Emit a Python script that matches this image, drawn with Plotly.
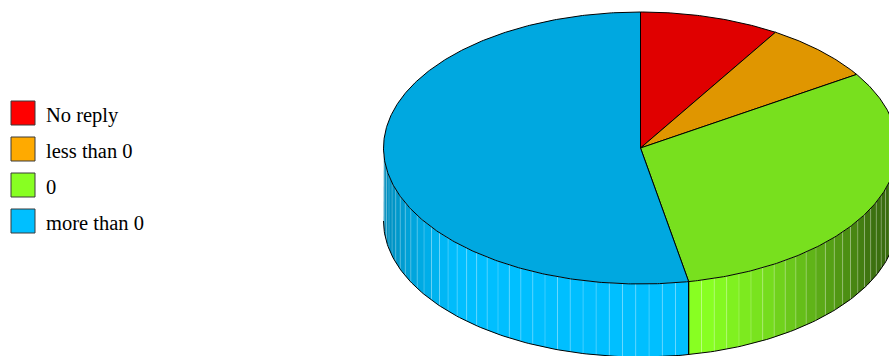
import numpy as np
import plotly.graph_objects as go

labels = ["No reply", "less than 0", "0", "more than 0"]
values = [8.8, 7.1, 31.1, 53.0]
colors = ["#ff0000", "#ffaa00", "#88ff22", "#00bfff"]

W, H = 889, 356
cx, cy = 640.5, 148.0
a, b = 257.0, 136.0
depth = 73.0
top_shade = 0.88


def shade(hexc, f):
    r, g, bb = int(hexc[1:3], 16), int(hexc[3:5], 16), int(hexc[5:7], 16)
    return "rgb(%d,%d,%d)" % (min(255, round(r * f)), min(255, round(g * f)), min(255, round(bb * f)))


def side_f(u):
    return float(np.interp(u, [180, 200, 225, 285, 300, 318, 333, 360],
                           [0.70, 0.80, 1.0, 1.0, 0.86, 0.62, 0.45, 0.38]))


def ell(ts):
    r = np.radians(ts)
    return cx + a * np.cos(r), cy - b * np.sin(r)


fig = go.Figure()
total = float(sum(values))
start = 90.0
bounds = []
for v in values:
    end = start - 360.0 * v / total
    bounds.append((start, end))
    start = end

# side walls (front half only)
edge_x, edge_y = [], []
for (s, e), c in zip(bounds, colors):
    lo, hi = max(e, -180.0), min(s, 0.0)
    if lo >= hi:
        continue
    n = max(1, int(np.ceil((hi - lo) / 3.0)))
    edges = np.linspace(lo, hi, n + 1)
    for t0, t1 in zip(edges[:-1], edges[1:]):
        ts = np.linspace(t0, t1, 6)
        xs, ys = ell(ts)
        X = list(xs) + list(xs[::-1])
        Y = list(ys) + list((ys + depth)[::-1])
        mid = (t0 + t1) / 2.0 + 360.0
        fig.add_trace(go.Scatter(x=X, y=Y, fill="toself", mode="lines",
                                 fillcolor=shade(c, side_f(mid)),
                                 line=dict(width=0), hoverinfo="skip", showlegend=False))
    for t in edges[1:-1]:
        x0, y0 = ell(np.array([t]))
        edge_x += [x0[0], x0[0], None]
        edge_y += [y0[0], y0[0] + depth, None]

fig.add_trace(go.Scatter(x=edge_x, y=edge_y, mode="lines",
                         line=dict(color="rgba(255,255,255,0.22)", width=1),
                         hoverinfo="skip", showlegend=False))

# bottom arc
ts = np.linspace(-180, 0, 200)
bx, by = ell(ts)
fig.add_trace(go.Scatter(x=bx, y=by + depth, mode="lines", line=dict(color="black", width=1),
                         hoverinfo="skip", showlegend=False))

# vertical slice boundaries on the side
vx, vy = [], []
for s, e in bounds:
    for t in (s, e):
        if -180.0 < t < 0.0:
            x0, y0 = ell(np.array([t]))
            vx += [x0[0], x0[0], None]
            vy += [y0[0], y0[0] + depth, None]
fig.add_trace(go.Scatter(x=vx, y=vy, mode="lines", line=dict(color="black", width=1),
                         hoverinfo="skip", showlegend=False))

# top slices
for (s, e), c in zip(bounds, colors):
    ts = np.linspace(s, e, max(8, int(abs(s - e) * 2)))
    xs, ys = ell(ts)
    X = [cx] + list(xs) + [cx]
    Y = [cy] + list(ys) + [cy]
    fig.add_trace(go.Scatter(x=X, y=Y, fill="toself", mode="lines",
                             fillcolor=shade(c, top_shade),
                             line=dict(color="black", width=1),
                             hoverinfo="skip", showlegend=False))

# legend
lx = [23] * len(labels)
ly = [113 + 36 * i for i in range(len(labels))]
fig.add_trace(go.Scatter(x=lx, y=ly, mode="markers",
                         marker=dict(symbol="square", size=24, color=colors,
                                     line=dict(color="#3a3a3a", width=1)),
                         hoverinfo="skip", showlegend=False))
for lab, y in zip(labels, ly):
    fig.add_annotation(x=44, y=y + 2, text=lab, showarrow=False, xanchor="left", yanchor="middle",
                       font=dict(family="Liberation Serif, Times New Roman, serif", size=20.5,
                                 color="black"))

fig.update_layout(width=W, height=H, margin=dict(l=0, r=0, t=0, b=0), autosize=False,
                  paper_bgcolor="white", plot_bgcolor="white", showlegend=False,
                  xaxis=dict(range=[0, W], visible=False, fixedrange=True),
                  yaxis=dict(range=[H, 0], visible=False, fixedrange=True))
fig.write_html("out.html")
